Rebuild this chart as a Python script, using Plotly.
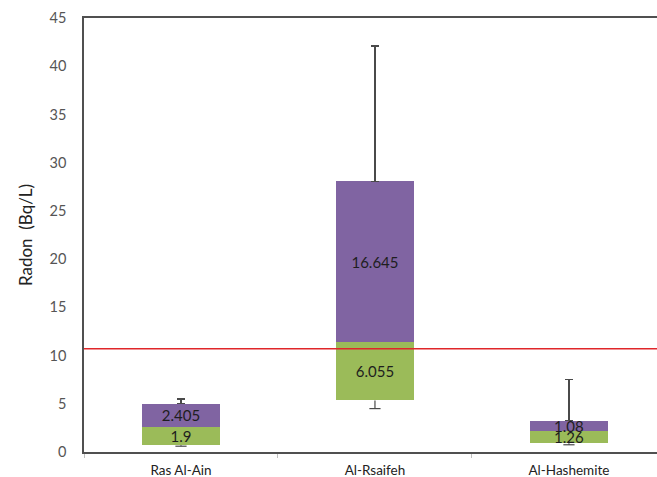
import plotly.graph_objects as go

# Radon concentration summary per site (Bq/L)
sites = ["Ras Al-Ain", "Al-Rsaifeh", "Al-Hashemite"]
q1 = [0.70, 5.35, 0.90]            # lower quartile (base of box)
lower_box = [1.9, 6.055, 1.26]     # Q1 -> median
upper_box = [2.405, 16.645, 1.08]  # median -> Q3
minimum = [0.60, 4.50, 0.75]
maximum = [5.50, 42.10, 7.50]
limit_value = 10.7                 # reference level

q3 = [a + b + c for a, b, c in zip(q1, lower_box, upper_box)]
err_up = [m - t for m, t in zip(maximum, q3)]

whisker_color = "#4a4a4a"
label_font = dict(family="Lato, Open Sans, sans-serif", size=15, color="#1e1e1e")

fig = go.Figure()

# invisible base up to Q1
fig.add_trace(go.Bar(
    x=sites, y=q1, marker=dict(color="rgba(0,0,0,0)", line_width=0),
    hoverinfo="skip", showlegend=False,
))
fig.add_trace(go.Bar(
    x=sites, y=lower_box, marker=dict(color="#9BBB59", line_width=0),
    text=[str(v) for v in lower_box], textposition="inside",
    insidetextanchor="middle", constraintext="none", textfont=label_font,
    showlegend=False,
))
fig.add_trace(go.Bar(
    x=sites, y=upper_box, marker=dict(color="#8064A2", line_width=0),
    text=[str(v) for v in upper_box], textposition="inside",
    insidetextanchor="middle", constraintext="none", textfont=label_font,
    error_y=dict(type="data", symmetric=False, array=err_up,
                 arrayminus=[0, 0, 0], color=whisker_color,
                 thickness=1.2, width=4),
    showlegend=False,
))

# lower whiskers: Q1 down to minimum, with a small cap
wx, wy = [], []
for s, lo, base in zip(sites, minimum, q1):
    wx += [s, s, None]
    wy += [lo, base, None]
fig.add_trace(go.Scatter(
    x=wx, y=wy, mode="lines", line=dict(color=whisker_color, width=1.2),
    hoverinfo="skip", showlegend=False,
))
fig.add_trace(go.Scatter(
    x=sites, y=minimum, mode="markers",
    marker=dict(symbol="line-ew", size=8,
                line=dict(color=whisker_color, width=1.2)),
    hoverinfo="skip", showlegend=False,
))

fig.add_shape(type="line", xref="paper", yref="y", x0=0, x1=1,
              y0=limit_value, y1=limit_value,
              line=dict(color="#E0262A", width=1.5), layer="above")

fig.update_layout(
    width=657, height=477, autosize=False,
    margin=dict(l=84, r=0, t=18, b=25, pad=0),
    barmode="stack", bargap=0.6,
    plot_bgcolor="white", paper_bgcolor="white",
    font=dict(family="Lato, Open Sans, sans-serif", color="#222222"),
    uniformtext=dict(minsize=13, mode="show"),
)
fig.update_xaxes(
    range=[-0.5, 2.454], showgrid=False,
    showline=True, linecolor="#505050", linewidth=1.5, mirror=True,
    ticks="outside", tickson="boundaries", ticklen=4, tickcolor="#c0c0c0",
    tickfont=dict(size=13.5, color="#222222"), ticklabelstandoff=5,
)
fig.update_yaxes(
    range=[0, 45], dtick=5, showgrid=False, zeroline=False,
    showline=True, linecolor="#505050", linewidth=1.5,
    tickfont=dict(size=14.5, color="#555555"), ticklabelstandoff=13,
    title=dict(text="Radon  (Bq/L)", font=dict(size=17, color="#222222"),
               standoff=13),
)

fig.write_html("out.html")
